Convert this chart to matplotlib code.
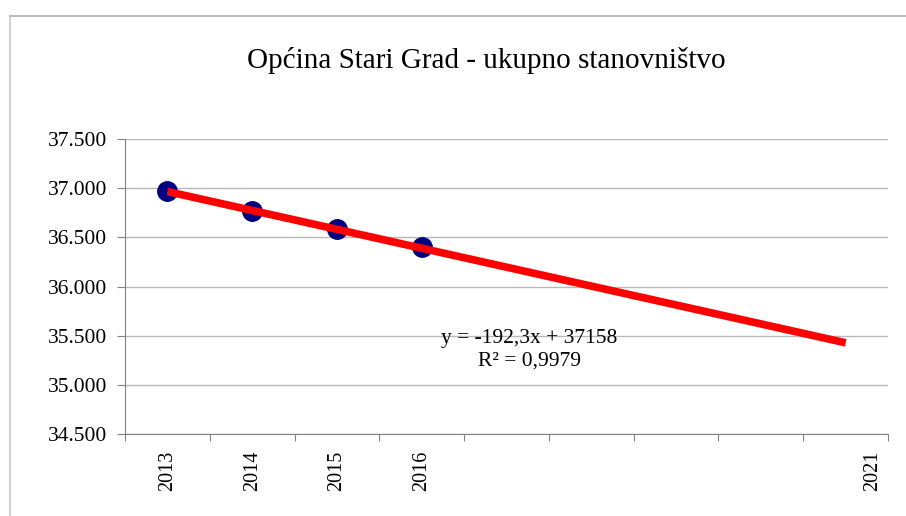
import numpy as np
import matplotlib.pyplot as plt
import matplotlib.transforms as mtransforms
from matplotlib.ticker import FuncFormatter

plt.rcParams['font.family'] = ['Liberation Serif', 'DejaVu Serif']

# data
years = ['2013', '2014', '2015', '2016', '', '', '', '', '2021']
pop_years = [1, 2, 3, 4]
population = [36975, 36768, 36583, 36397]
slope = -192.3
intercept = 37158
r2 = 0.9979
title = 'Općina Stari Grad - ukupno stanovništvo'


def thousands(v, pos):
    return '{:,.0f}'.format(v).replace(',', '.')


def main():
    fig = plt.figure(figsize=(9.06, 5.16), dpi=100)
    # outer chart frame
    fig.add_artist(plt.Line2D([9.5 / 906, 9.5 / 906], [0, 1 - 16 / 516],
                              transform=fig.transFigure, color='#d4d4d4', lw=1.5))
    fig.add_artist(plt.Line2D([9.5 / 906, 1], [1 - 16 / 516, 1 - 16 / 516],
                              transform=fig.transFigure, color='#b0b0b0', lw=1.2))

    ax = fig.add_axes([125 / 906, 1 - 434 / 516, (888 - 125) / 906, (434 - 139) / 516])

    n = len(years)
    ax.set_xlim(0.5, n + 0.5)
    ax.set_ylim(34500, 37500)
    ax.set_yticks(np.arange(34500, 37501, 500))
    ax.yaxis.set_major_formatter(FuncFormatter(thousands))
    ax.yaxis.grid(True, color='#b8b8b8', lw=1)
    ax.set_axisbelow(True)

    # category boundaries as ticks, labels in the middle
    ax.set_xticks(np.arange(0.5, n + 1, 1))
    ax.set_xticklabels([])
    ax.set_xticks(np.arange(1, n + 1), minor=True)
    ax.set_xticklabels(years, minor=True, rotation=90, fontsize=14.5)
    ax.tick_params(axis='x', which='minor', length=0, pad=12)
    ax.tick_params(axis='x', which='major', length=5, color='#808080')
    ax.tick_params(axis='y', length=6, color='#808080', labelsize=15.5, pad=7)
    last = ax.xaxis.get_minorticklabels()[-1]
    last.set_transform(last.get_transform() + mtransforms.ScaledTranslation(0.27, 0, fig.dpi_scale_trans))

    for s in ['top', 'right']:
        ax.spines[s].set_visible(False)
    ax.spines['left'].set_color('#808080')
    ax.spines['bottom'].set_color('#808080')

    ax.plot(pop_years, population, 'o', color='#000080', markersize=14, zorder=3)
    tx = np.array([1, n])
    ax.plot(tx, slope * tx + intercept, color='#ff0000', lw=5.5, zorder=4,
            solid_capstyle='butt')

    ax.text(5.27, 35475, 'y = -192,3x + 37158', ha='center', va='center', fontsize=15.5)
    ax.text(5.27, 35245, 'R² = {}'.format(str(r2).replace('.', ',')),
            ha='center', va='center', fontsize=15.5)

    fig.text(486 / 906, 1 - 60 / 516, title, ha='center', va='center', fontsize=21)

    fig.savefig('out.png', dpi=100)


if __name__ == "__main__":
    main()
